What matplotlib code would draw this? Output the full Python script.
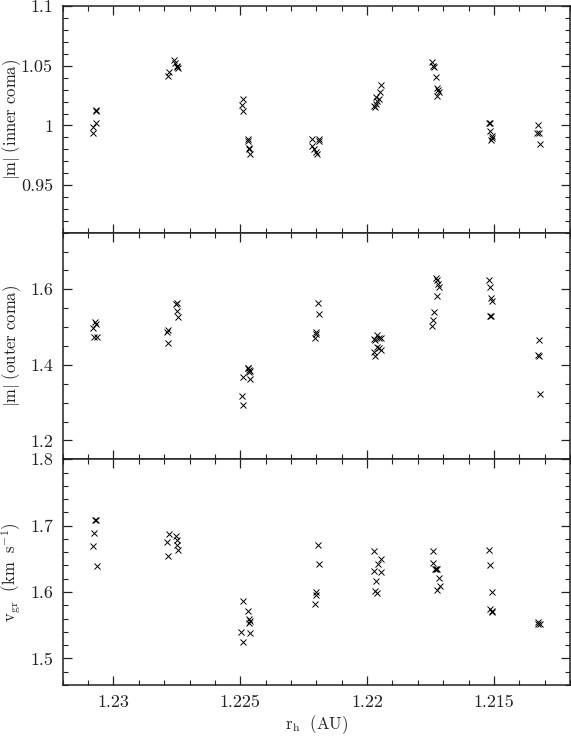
import matplotlib
matplotlib.use('Agg')
import matplotlib.pyplot as plt
from matplotlib.ticker import MultipleLocator, FuncFormatter

plt.rcParams['font.family'] = 'serif'
plt.rcParams['font.serif'] = ['cmr10', 'DejaVu Serif']
plt.rcParams['mathtext.fontset'] = 'cm'
plt.rcParams['axes.unicode_minus'] = False

# heliocentric distance (AU) and values
x_in = [1.23070, 1.23070, 1.23079, 1.23067, 1.23079,
        1.22786, 1.22782, 1.22762, 1.22757, 1.22750, 1.22746, 1.22749,
        1.22491, 1.22494, 1.22489, 1.22471, 1.22468, 1.22464, 1.22467, 1.22460,
        1.22218, 1.22216, 1.22210, 1.22203, 1.22198, 1.22191, 1.22188,
        1.21968, 1.21971, 1.21964, 1.21960, 1.21963, 1.21953, 1.21948, 1.21944,
        1.21743, 1.21739, 1.21736, 1.21727, 1.21724, 1.21720, 1.21717, 1.21723,
        1.21520, 1.21517, 1.21514, 1.21509, 1.21506, 1.21512,
        1.21325, 1.21329, 1.21322, 1.21319]
m_inner = [1.0131, 1.0117, 0.9989, 1.0017, 0.9936,
           1.0415, 1.0452, 1.0547, 1.0524, 1.0502, 1.0480, 1.0488,
           1.0218, 1.0173, 1.0117, 0.9883, 0.9869, 0.9813, 0.9805, 0.9757,
           0.9888, 0.9827, 0.9805, 0.9777, 0.9760, 0.9883, 0.9869,
           1.0156, 1.0167, 1.0176, 1.0204, 1.0240, 1.0223, 1.0279, 1.0340,
           1.0530, 1.0502, 1.0488, 1.0404, 1.0315, 1.0301, 1.0279, 1.0245,
           1.0022, 1.0017, 0.9953, 0.9911, 0.9897, 0.9877,
           1.0000, 0.9939, 0.9933, 0.9847]

x_out = [1.23081, 1.23072, 1.23068, 1.23075, 1.23066,
         1.22787, 1.22783, 1.22783, 1.22754, 1.22751, 1.22749, 1.22744,
         1.22494, 1.22491, 1.22489, 1.22471, 1.22467, 1.22464, 1.22460, 1.22463, 1.22470,
         1.22204, 1.22201, 1.22200, 1.22193, 1.22190,
         1.21973, 1.21968, 1.21960, 1.21954, 1.21947, 1.21971, 1.21967, 1.21960, 1.21951, 1.21945,
         1.21743, 1.21740, 1.21737, 1.21728, 1.21724, 1.21720, 1.21716, 1.21723,
         1.21520, 1.21517, 1.21510, 1.21506, 1.21516, 1.21512,
         1.21322, 1.21326, 1.21322, 1.21319]
m_outer = [1.4967, 1.5144, 1.5090, 1.4746, 1.4746,
           1.486, 1.493, 1.457, 1.560, 1.563, 1.543, 1.528,
           1.318, 1.293, 1.367, 1.391, 1.386, 1.382, 1.385, 1.362, 1.393,
           1.470, 1.488, 1.482, 1.564, 1.536,
           1.468, 1.466, 1.479, 1.470, 1.470, 1.435, 1.423, 1.448, 1.444, 1.439,
           1.504, 1.519, 1.540, 1.631, 1.625, 1.613, 1.605, 1.582,
           1.626, 1.606, 1.578, 1.569, 1.529, 1.529,
           1.466, 1.426, 1.423, 1.322]

x_v = [1.23072, 1.23068, 1.23078, 1.23081, 1.23066,
       1.22780, 1.22787, 1.22785, 1.22754, 1.22751, 1.22749, 1.22744,
       1.22489, 1.22471, 1.22467, 1.22463, 1.22464, 1.22496, 1.22490, 1.22461,
       1.22193, 1.22188, 1.22200, 1.22203, 1.22204,
       1.21971, 1.21958, 1.21944, 1.21971, 1.21947, 1.21963, 1.21967, 1.21960,
       1.21740, 1.21741, 1.21734, 1.21727, 1.21723, 1.21718, 1.21714, 1.21723,
       1.21519, 1.21517, 1.21507, 1.21514, 1.21509, 1.21507,
       1.21325, 1.21320, 1.21325]
v_gr = [1.7078, 1.7078, 1.6887, 1.6697, 1.6386,
        1.6872, 1.6757, 1.6546, 1.6837, 1.6787, 1.6712, 1.6637,
        1.587, 1.571, 1.560, 1.557, 1.554, 1.540, 1.524, 1.538,
        1.6707, 1.6426, 1.6005, 1.5955, 1.582,
        1.6612, 1.642, 1.650, 1.631, 1.630, 1.617, 1.601, 1.5985,
        1.6617, 1.6436, 1.635, 1.635, 1.6346, 1.6205, 1.6085, 1.6025,
        1.6627, 1.640, 1.600, 1.575, 1.572, 1.570,
        1.555, 1.552, 1.552]

fig = plt.figure(figsize=(5.71, 7.37), dpi=100)
L, W = 0.1098, 0.8884
ax1 = fig.add_axes([L, 0.6843, W, 0.3072])
ax2 = fig.add_axes([L, 0.3768, W, 0.3075])
ax3 = fig.add_axes([L, 0.0706, W, 0.3062])

fmt = FuncFormatter(lambda v, p: '%g' % round(v, 4))

panels = [
    (ax1, x_in, m_inner, (0.91, 1.1), 0.05, 0.01, r'$\mathrm{|m|\ (inner\ coma)}$'),
    (ax2, x_out, m_outer, (1.15, 1.75), 0.2, 0.05, r'$\mathrm{|m|\ (outer\ coma)}$'),
    (ax3, x_v, v_gr, (1.46, 1.8), 0.1, 0.02, r'$\mathrm{v_{gr}\ \ (km\ \ s^{-1})}$'),
]

for ax, xs, ys, ylim, major, minor, lab in panels:
    ax.plot(xs, ys, 'x', color='black', markersize=4.3, markeredgewidth=0.7)
    ax.set_xlim(1.232, 1.212)
    ax.set_ylim(*ylim)
    ax.xaxis.set_major_locator(MultipleLocator(0.005))
    ax.xaxis.set_minor_locator(MultipleLocator(0.001))
    ax.yaxis.set_major_locator(MultipleLocator(major))
    ax.yaxis.set_minor_locator(MultipleLocator(minor))
    ax.xaxis.set_major_formatter(fmt)
    ax.yaxis.set_major_formatter(fmt)
    ax.tick_params(which='both', direction='in', top=True, right=True,
                   labelsize=13, colors='#222222', pad=7)
    ax.tick_params(which='major', length=6.5, width=0.9)
    ax.tick_params(which='minor', length=3.3, width=0.8)
    for s in ax.spines.values():
        s.set_linewidth(1.1)
        s.set_color('#222222')
    ax.set_ylabel(lab, fontsize=12, color='#222222')
    ax.yaxis.set_label_coords(-0.078, 0.5)

ax1.tick_params(labelbottom=False)
ax2.tick_params(labelbottom=False)
ax3.set_xlabel(r'$\mathrm{r_h\ \ (AU)}$', fontsize=12, color='#222222')
ax3.xaxis.set_label_coords(0.5, -0.125)

fig.savefig('out.png', dpi=100)
